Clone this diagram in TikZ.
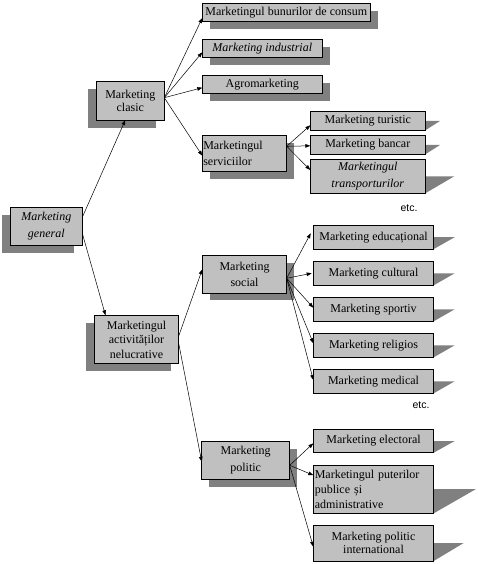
\documentclass[tikz,border=0pt]{standalone}
\usepackage{fontspec}
\setmainfont{Liberation Serif}
\newfontfamily\etcfont{Liberation Sans}
\usetikzlibrary{arrows.meta,shadows,backgrounds}
\definecolor{boxgray}{HTML}{C0C0C0}
\definecolor{shadowgray}{HTML}{808080}
\begin{document}
\begin{tikzpicture}[x=1pt,y=-1pt,
  box/.style={draw, fill=boxgray, line width=0.6pt, inner sep=0pt, outer sep=0pt,
    align=center, font=\fontsize{12}{13}\selectfont},
  wide/.style={font=\fontsize{12}{16.5}\selectfont},
  itwide/.style={font=\fontsize{12}{16.5}\selectfont\itshape},
  lshadow/.style={general shadow={fill=shadowgray, shadow xshift=-8pt, shadow yshift=-7.5pt}},
  rshadow/.style={general shadow={fill=shadowgray, shadow xshift=7.5pt, shadow yshift=-7.5pt}},
  conn/.style={-{Triangle[length=5pt,width=3.6pt]}, line width=0.5pt},
  etc/.style={font=\etcfont\fontsize{10.5}{12}\selectfont, inner sep=0pt}
]
\useasboundingbox (0,0) rectangle (478,564);

% level 1
\node[box, lshadow, itwide, minimum width=72pt, minimum height=38pt] (gen) at (46.3,226.3) {Marketing\\general};
% level 2
\node[box, lshadow, minimum width=68pt, minimum height=38.7pt] (clasic) at (130.3,100.7) {Marketing\\clasic};
\node[box, lshadow, font=\fontsize{12}{14.5}\selectfont, minimum width=84.4pt, minimum height=48.4pt] (activ) at (136.5,339.5) {Marketingul\\activităților\\nelucrative};
% level 3
\node[box, rshadow, minimum width=168pt, minimum height=18.4pt] (bun) at (286.3,12.5) {Marketingul bunurilor de consum};
\node[box, rshadow, minimum width=120pt, minimum height=18pt, font=\fontsize{12}{13}\selectfont\itshape] (ind) at (262.3,48.3) {Marketing industrial};
\node[box, rshadow, minimum width=120pt, minimum height=18pt] (agro) at (262.3,84.3) {Agromarketing};
\node[box, rshadow, wide, align=left, text width=82.4pt, inner xsep=1pt, minimum height=36pt] (serv) at (244.5,153.3) {Marketingul\\serviciilor};
\node[box, rshadow, wide, minimum width=84.4pt, minimum height=37.3pt] (soc) at (244.5,274.3) {Marketing\\social};
\node[box, rshadow, wide, minimum width=88pt, minimum height=38pt] (pol) at (245.7,460.3) {Marketing\\politic};
% level 4
\node[box, minimum width=115pt, minimum height=19pt] (tur) at (367.8,120.8) {Marketing turistic};
\node[box, minimum width=115pt, minimum height=19pt] (banc) at (367.8,144.8) {Marketing bancar};
\node[box, itwide, minimum width=115pt, minimum height=34pt] (transp) at (367.8,176.3) {Marketingul\\transporturilor};
\node[box, minimum width=120.4pt, minimum height=23.7pt] (edu) at (373.5,237.2) {Marketing educațional};
\node[box, minimum width=120.4pt, minimum height=24pt] (cult) at (373.5,273.3) {Marketing cultural};
\node[box, minimum width=120.4pt, minimum height=24pt] (sport) at (373.5,309.3) {Marketing sportiv};
\node[box, minimum width=120.4pt, minimum height=24pt] (rel) at (373.5,345.3) {Marketing religios};
\node[box, minimum width=120.4pt, minimum height=24pt] (med) at (373.5,381.3) {Marketing medical};
\node[box, minimum width=120.4pt, minimum height=23.4pt] (elec) at (373.5,441) {Marketing electoral};
\node[box, font=\fontsize{12}{15}\selectfont, align=left, text width=117.4pt, inner xsep=1.5pt, minimum height=48.3pt] (put) at (373.5,489.2) {Marketingul puterilor\\publice și\\administrative};
\node[box, minimum width=120.4pt, minimum height=36pt] (intl) at (373.5,543) {Marketing politic\\international};

\node[etc] (etc1) at (409,208) {etc.};
\node[etc] (etc2) at (421,405) {etc.};

% perspective shadows
\begin{scope}[on background layer]
  \foreach \n/\k in {tur/15, banc/15, transp/29, edu/21, cult/21, sport/21, rel/21, med/21, elec/21, put/42, intl/30}
    \fill[shadowgray] (\n.east) -- ++(\k,0) -- (\n.south east) -- cycle;
\end{scope}

% connectors
\draw[conn] ([yshift=9pt]gen.east) -- ([xshift=-5pt]clasic.south);
\draw[conn] ([yshift=-7pt]gen.east) -- ([xshift=-31pt]activ.north);

\draw[conn] ([yshift=3pt]clasic.east) -- ([yshift=-5.5pt]bun.west);
\draw[conn] ([yshift=3pt]clasic.east) -- ([yshift=-4pt]ind.west);
\draw[conn] ([yshift=3pt]clasic.east) -- ([yshift=-3.4pt]agro.west);
\draw[conn] ([yshift=3pt]clasic.east) -- ([yshift=-2.4pt]serv.west);

\draw[conn] ([yshift=7pt]serv.east) -- ([yshift=-4.5pt]tur.west);
\draw[conn] ([yshift=7pt]serv.east) -- ([yshift=-1pt]banc.west);
\draw[conn] ([yshift=7pt]serv.east) -- ([yshift=6.3pt]transp.west);

\draw[conn] ([yshift=3.5pt]activ.east) -- ([yshift=5pt]soc.west);
\draw[conn] ([yshift=-3.8pt]activ.east) -- ([yshift=-1.4pt]pol.west);

\draw[conn] ([yshift=-4pt]soc.east) -- ([xshift=-2.6pt,yshift=3.9pt]edu.west);
\draw[conn] ([yshift=-4pt]soc.east) -- ([xshift=-1.6pt]cult.west);
\draw[conn] ([yshift=-4pt]soc.east) -- ([yshift=1.6pt]sport.west);
\draw[conn] ([yshift=-4pt]soc.east) -- ([yshift=2pt]rel.west);
\draw[conn] ([yshift=-4pt]soc.east) -- ([yshift=1.3pt]med.west);

\draw[conn] ([yshift=-5pt]pol.east) -- ([yshift=-2.3pt]elec.west);
\draw[conn] ([yshift=-5pt]pol.east) -- ([yshift=14pt]put.west);
\draw[conn] ([yshift=-5pt]pol.east) -- ([yshift=-3.7pt]intl.west);
\end{tikzpicture}
\end{document}
